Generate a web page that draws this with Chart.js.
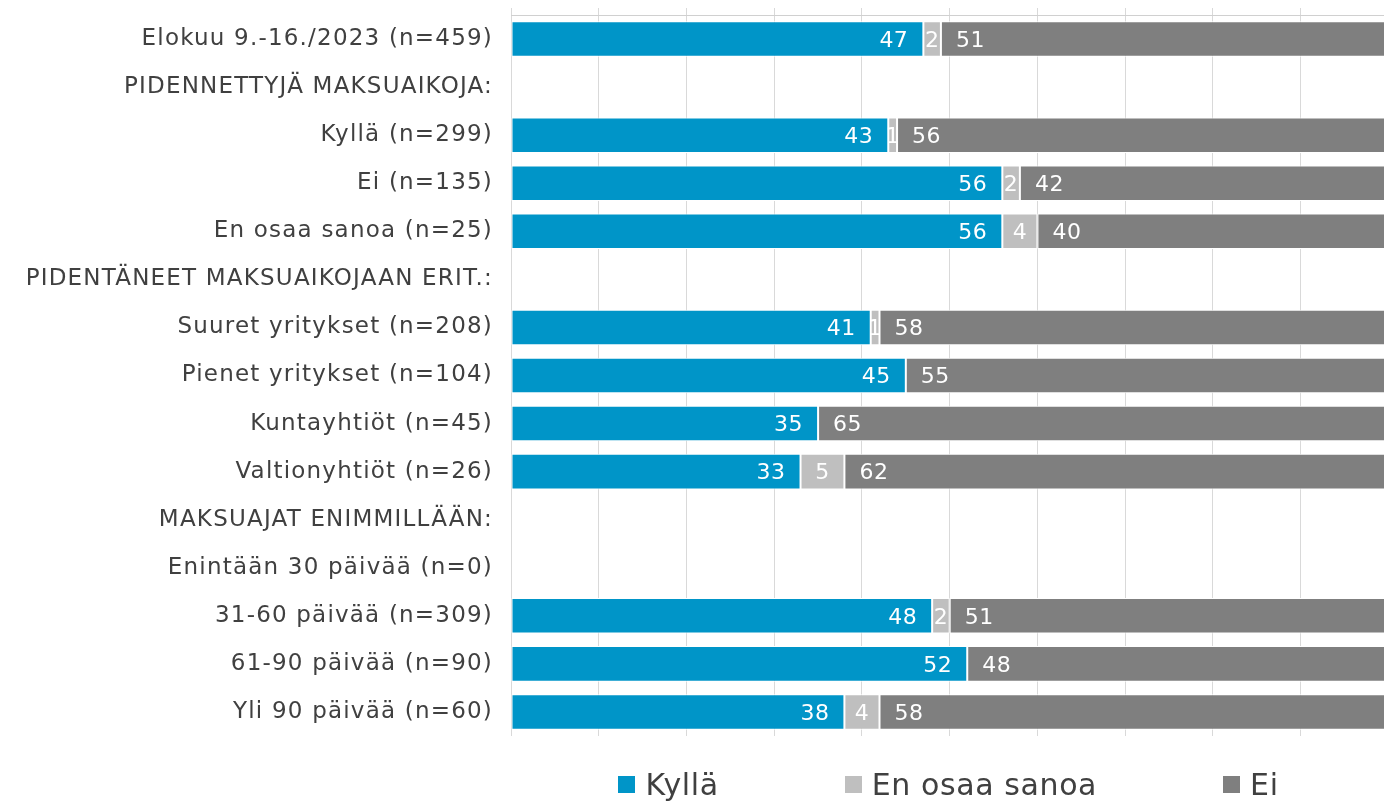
<!DOCTYPE html>
<html>
<head>
<meta charset="utf-8">
<script src="https://cdn.jsdelivr.net/npm/chart.js@4/dist/chart.umd.min.js"></script>
<style>
  html, body { margin: 0; padding: 0; background: #fff; }
  #wrap { position: relative; width: 1384px; height: 801px; overflow: hidden; }
  #legend { position: absolute; left: 510px; width: 877px; top: 767px; display: flex; justify-content: center; gap: 126px;
    font-family: "DejaVu Sans", Verdana, sans-serif; font-size: 30px; letter-spacing: 0.6px; color: #404040; }
  #legend .item { display: flex; align-items: center; white-space: nowrap; }
  #legend .box { width: 17px; height: 17px; margin-right: 10px; }
</style>
</head>
<body>
<div id="wrap">
  <canvas id="c" width="1384" height="801"></canvas>
  <div id="legend"></div>
</div>
<script>
const categories = [
  'Elokuu 9.-16./2023 (n=459)',
  'PIDENNETTYJÄ MAKSUAIKOJA:',
  'Kyllä (n=299)',
  'Ei (n=135)',
  'En osaa sanoa (n=25)',
  'PIDENTÄNEET MAKSUAIKOJAAN ERIT.:',
  'Suuret yritykset (n=208)',
  'Pienet yritykset (n=104)',
  'Kuntayhtiöt (n=45)',
  'Valtionyhtiöt (n=26)',
  'MAKSUAJAT ENIMMILLÄÄN:',
  'Enintään 30 päivää (n=0)',
  '31-60 päivää (n=309)',
  '61-90 päivää (n=90)',
  'Yli 90 päivää (n=60)'
];
const kylla = [47, null, 43, 56, 56, null, 41, 45, 35, 33, null, null, 48, 52, 38];
const eos   = [2, null, 1, 2, 4, null, 1, 0, 0, 5, null, null, 2, 0, 4];
const ei    = [51, null, 56, 42, 40, null, 58, 55, 65, 62, null, null, 51, 48, 58];
const seriesNames = ['Kyllä', 'En osaa sanoa', 'Ei'];
const colors = ['#0095C8', '#BFBFBF', '#7F7F7F'];

const FONT = '"DejaVu Sans", Verdana, sans-serif';

// wider letter spacing like the original Verdana rendering
const spacing = {
  id: 'spacing',
  beforeUpdate(chart) { chart.ctx.letterSpacing = '1.2px'; },
  beforeDraw(chart) { chart.ctx.letterSpacing = '1.2px'; }
};

// value labels: Kyllä at inside end, EOS centered, Ei at inside start
const barLabels = {
  id: 'barLabels',
  afterDatasetsDraw(chart) {
    const ctx = chart.ctx;
    ctx.save();
    ctx.letterSpacing = '0.5px';
    ctx.font = '22px ' + FONT;
    ctx.fillStyle = '#fff';
    ctx.textBaseline = 'middle';
    chart.data.datasets.forEach((ds, di) => {
      chart.getDatasetMeta(di).data.forEach((bar, i) => {
        const v = ds.data[i];
        if (!v) return;
        const txt = String(v);
        if (di === 0) { ctx.textAlign = 'right'; ctx.fillText(txt, bar.x - 15, bar.y + 2); }
        else if (di === 1) { ctx.textAlign = 'center'; ctx.fillText(txt, (bar.x + bar.base) / 2, bar.y + 2); }
        else { ctx.textAlign = 'left'; ctx.fillText(txt, bar.base + 15, bar.y + 2); }
      });
    });
    ctx.restore();
  }
};

const chart = new Chart(document.getElementById('c'), {
  type: 'bar',
  data: {
    labels: categories,
    datasets: [kylla, eos, ei].map((d, k) => ({
      label: seriesNames[k], data: d, backgroundColor: colors[k],
      borderColor: '#fff', borderWidth: 1, borderSkipped: false,
      barPercentage: 0.74, categoryPercentage: 1
    }))
  },
  options: {
    indexAxis: 'y',
    responsive: false,
    animation: false,
    layout: { padding: { top: 8, bottom: 65, left: 0, right: 0 } },
    plugins: { legend: { display: false }, tooltip: { enabled: false } },
    scales: {
      x: {
        position: 'top', stacked: true, min: 0, max: 99.5,
        afterFit(scale) { scale.height = 7; scale.paddingLeft = 0; scale.paddingRight = 0; },
        ticks: { display: false, stepSize: 10 },
        grid: { color: '#D9D9D9', tickLength: 7, drawTicks: true },
        border: { color: '#D0D0D0' }
      },
      y: {
        stacked: true,
        afterFit(scale) { scale.width = 511; scale.paddingTop = 0; scale.paddingBottom = 0; },
        grid: { display: false, drawTicks: false },
        border: { display: false },
        ticks: { padding: 18, color: '#404040', font: { family: FONT, size: 23 } }
      }
    }
  },
  plugins: [spacing, barLabels]
});

const legend = document.getElementById('legend');
chart.data.datasets.forEach(ds => {
  const item = document.createElement('div');
  item.className = 'item';
  item.innerHTML = '<span class="box" style="background:' + ds.backgroundColor + '"></span>' + ds.label;
  legend.appendChild(item);
});
</script>
</body>
</html>
